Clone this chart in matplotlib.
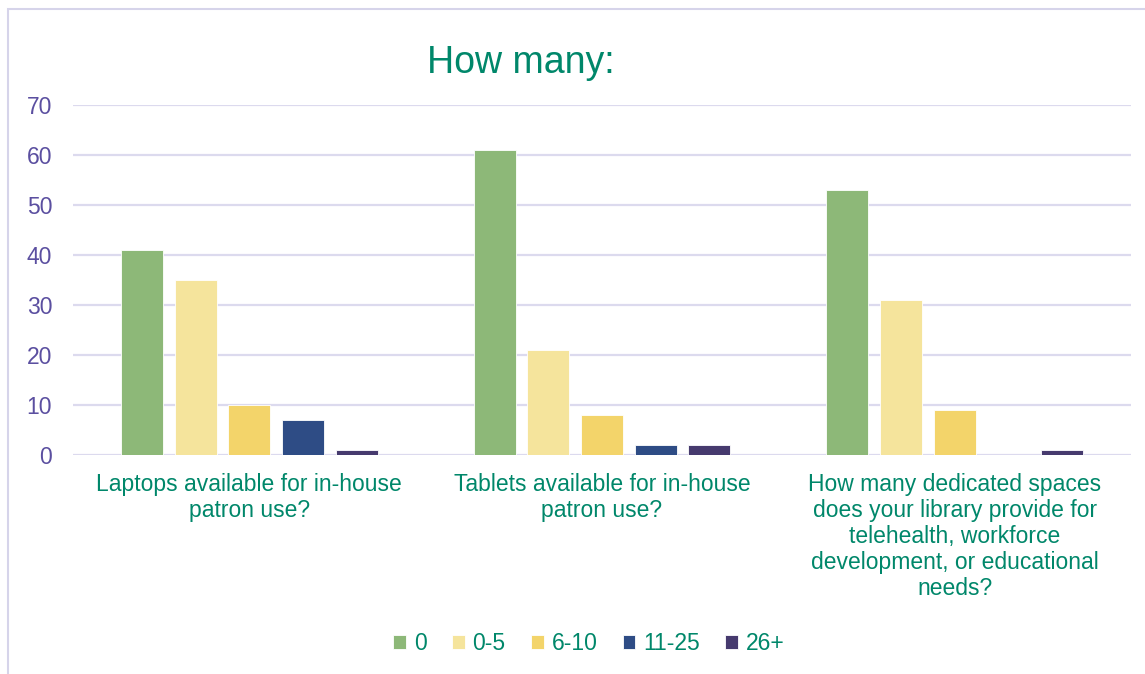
import matplotlib
matplotlib.use("Agg")
import matplotlib.pyplot as plt
import numpy as np
from matplotlib.patches import Rectangle

categories = [
    "Laptops available for in-house\npatron use?",
    "Tablets available for in-house\npatron use?",
    "How many dedicated spaces\ndoes your library provide for\ntelehealth, workforce\ndevelopment, or educational\nneeds?",
]
series_names = ["0", "0-5", "6-10", "11-25", "26+"]
values_0 = [41, 61, 53]
values_0_5 = [35, 21, 31]
values_6_10 = [10, 8, 9]
values_11_25 = [7, 2, 0]
values_26_plus = [1, 2, 1]
series_values = [values_0, values_0_5, values_6_10, values_11_25, values_26_plus]
colors = ["#8DB878", "#F5E49C", "#F3D46A", "#2E4C85", "#463A6E"]
yticks = [0, 10, 20, 30, 40, 50, 60, 70]

green = "#00876A"
purple_txt = "#5B4FA0"
grid_c = "#DCDAEE"

plt.rcParams['font.family'] = ['Liberation Sans', 'DejaVu Sans']

W, H = 1145, 674
fig = plt.figure(figsize=(W / 100, H / 100), dpi=100)

# outer frame
fig.patches.append(Rectangle((8 / W, -0.1), 1.2, 1 - 9 / H + 0.1, transform=fig.transFigure,
                             fill=False, edgecolor="#D6D4EA", linewidth=1.5, zorder=0))

ax = fig.add_axes([73 / W, 1 - 455 / H, (1131 - 73) / W, 350 / H])
x = np.arange(len(categories))
step = 0.152
width = 0.119
for i, (name, vals, c) in enumerate(zip(series_names, series_values, colors)):
    off = (i - 2) * step
    ax.bar(x + off, vals, width=width, color=c, label=name, zorder=3,
           edgecolor="#FFFFFF", linewidth=0.6)

ax.set_xlim(-0.5, 2.5)
ax.set_ylim(0, 70)
ax.set_yticks(yticks)
ax.yaxis.grid(True, color=grid_c, linewidth=1.6, zorder=0)
ax.set_axisbelow(True)
for s in ax.spines.values():
    s.set_visible(False)
ax.tick_params(axis='y', length=0, pad=15, labelsize=16.5, labelcolor=purple_txt)
ax.tick_params(axis='x', length=0, pad=13, labelsize=16.5, labelcolor=green)
ax.set_xticks(x)
ax.set_xticklabels(categories, linespacing=1.16)

fig.text(521 / W, 1 - 63 / H, "How many:", ha="center", va="center", fontsize=27, color=green)

leg = fig.legend(loc="center", bbox_to_anchor=(589 / W, 1 - 644 / H), ncol=5, frameon=False,
                 fontsize=16.5, handlelength=0.55, handleheight=0.55, handletextpad=0.35,
                 columnspacing=1.1)
for t in leg.get_texts():
    t.set_color(green)

fig.savefig("out.png", dpi=100)
